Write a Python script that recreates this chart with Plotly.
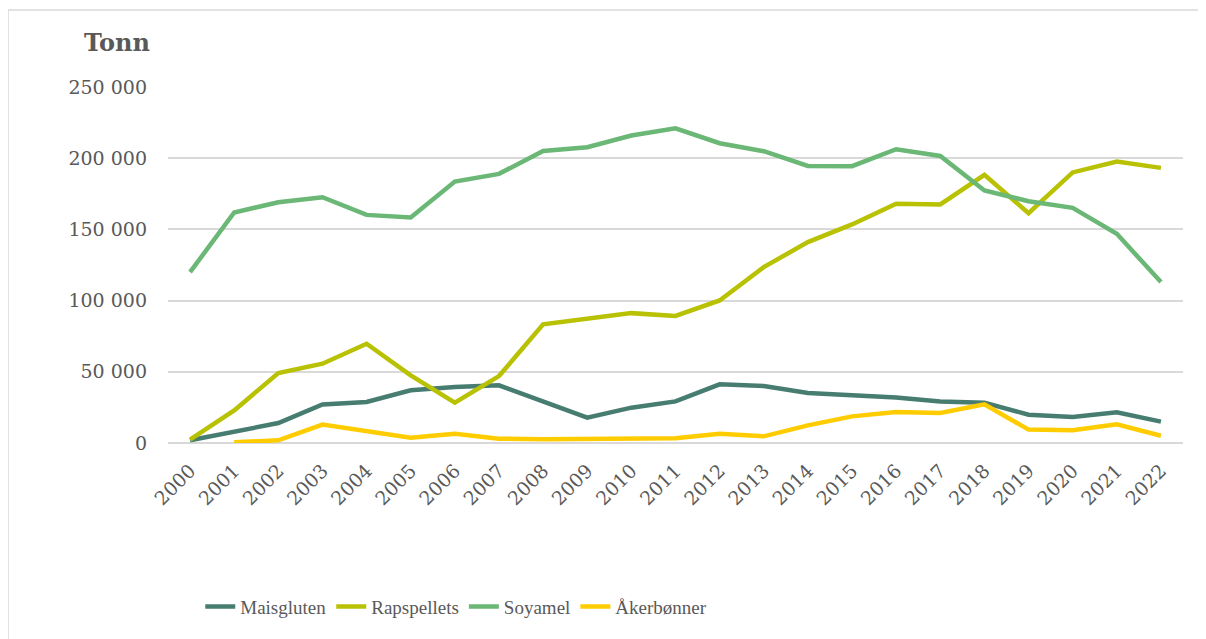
import plotly.graph_objects as go

years = [str(y) for y in range(2000, 2023)]

maisgluten = [1900, 8200, 14000, 27100, 28800, 37000, 39300, 40500, 28800, 17800,
              24800, 29200, 41200, 40000, 35100, 33900, 32000, 29200, 28300, 19900,
              18200, 21500, 15000]
rapspellets = [2300, 22900, 49100, 55700, 69700, 47500, 28300, 47000, 83300, 87300,
               91200, 89200, 100100, 123500, 141100, 153500, 168000, 167500, 188300,
               161400, 190000, 197700, 193200]
soyamel = [120000, 161900, 169100, 172600, 160200, 158400, 183600, 189000, 205100,
           207700, 215900, 221000, 210500, 204900, 194600, 194400, 206300, 201600,
           177300, 169800, 165100, 146900, 113000]
akerbonner = [None, 500, 1900, 12900, 8200, 3700, 6500, 3000, 2600, 3000, 3000, 3300,
              6500, 4700, 12400, 18700, 21800, 21100, 27100, 9400, 8900, 13100, 5100]

series = [
    ("Maisgluten", maisgluten, "#477d71"),
    ("Rapspellets", rapspellets, "#b8c102"),
    ("Soyamel", soyamel, "#6ab776"),
    ("Åkerbønner", akerbonner, "#ffcc00"),
]

tick_font = "DejaVu Serif, Liberation Serif, serif"
legend_font = "Liberation Serif, DejaVu Serif, serif"
text_color = "#595959"

fig = go.Figure()
for name, values, color in series:
    fig.add_trace(go.Scatter(
        x=years, y=values, name=name, mode="lines",
        line=dict(color=color, width=4.5),
        connectgaps=False,
    ))

# the page body adds an 8px offset, so size and margins are shrunk to match
fig.update_layout(
    width=1198,
    height=631,
    margin=dict(l=160, r=23, t=79, b=196),
    paper_bgcolor="white",
    plot_bgcolor="white",
    separators=", ",
    font=dict(family=tick_font, color=text_color, size=19),
    showlegend=True,
    legend=dict(
        orientation="h", x=0.284, xanchor="center", y=-0.46, yanchor="middle",
        font=dict(size=19, color=text_color, family=legend_font),
        traceorder="normal",
    ),
    xaxis=dict(
        type="category", range=[-0.5, 22.5], tickangle=-45, showgrid=False,
        showline=False, ticks="", automargin=False, ticklabelstandoff=12,
        tickfont=dict(size=19, color=text_color),
    ),
    yaxis=dict(
        range=[0, 250000], dtick=50000, tickformat=",d", showgrid=True,
        gridcolor="#d9d9d9", gridwidth=1.5, zeroline=True, zerolinecolor="#d9d9d9",
        zerolinewidth=1.5, showline=False, ticks="", automargin=False,
        ticklabelstandoff=20,
        tickfont=dict(size=19, color=text_color),
    ),
    annotations=[dict(
        text="<b>Tonn</b>", xref="paper", yref="paper", x=-0.05, y=1.126,
        xanchor="center", yanchor="middle", showarrow=False,
        font=dict(size=24, color=text_color, family=tick_font),
    )],
    shapes=[dict(
        type="rect", xref="paper", yref="paper", x0=-0.1576, x1=1.0197,
        y0=-0.6, y1=1.2163, line=dict(color="#d9d9d9", width=1.5),
        fillcolor="rgba(0,0,0,0)", layer="below",
    )],
)

fig.write_html("out.html")
